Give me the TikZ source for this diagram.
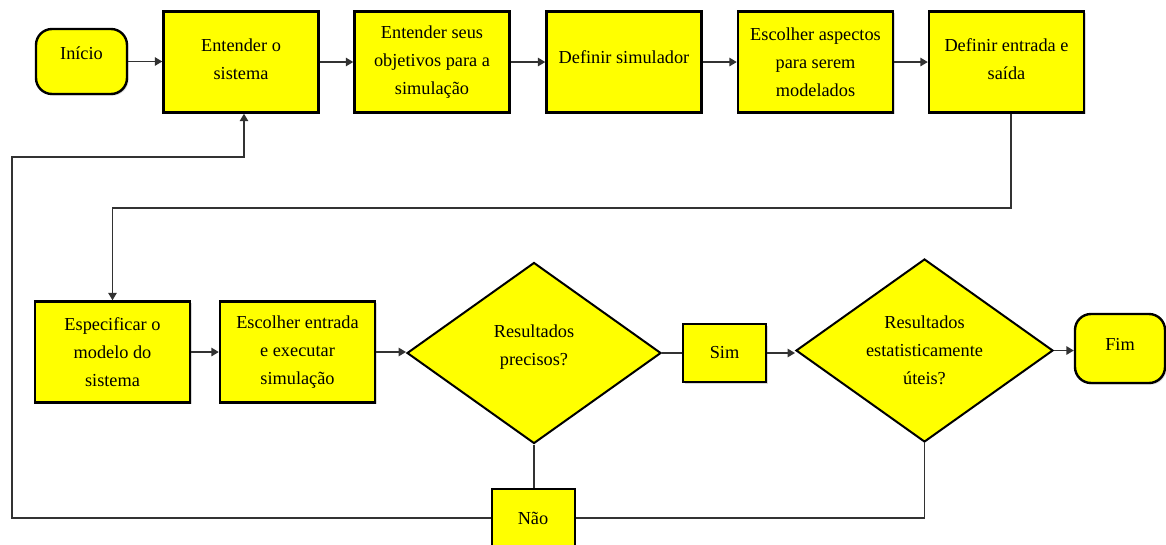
\documentclass[tikz,border=0pt]{standalone}
\usepackage{fontspec}
\setmainfont{Liberation Serif}
\usetikzlibrary{shapes.geometric,arrows.meta,shadows}
\definecolor{boxyellow}{RGB}{255,255,0}
\definecolor{linegray}{RGB}{50,50,50}
\begin{document}
\begin{tikzpicture}[x=1pt,y=-1pt,
  every node/.style={font=\fontsize{18.3}{28}\selectfont, align=center, text=black},
  shade/.style={drop shadow={shadow xshift=1.6pt, shadow yshift=-1.6pt, fill=black!30}},
  stepbox/.style={draw=black, line width=2.4pt, fill=boxyellow, shade,
    minimum width=155pt, minimum height=101pt, inner sep=0pt},
  smallbox/.style={draw=black, line width=2pt, fill=boxyellow, shade,
    minimum width=83pt, minimum height=58pt, inner sep=0pt},
  term/.style={draw=black, line width=2.4pt, fill=boxyellow, shade,
    rounded corners=16pt, inner sep=0pt},
  decision/.style={diamond, draw=black, line width=2pt, fill=boxyellow,
    inner sep=0pt},
  txt/.style={font=\fontsize{18.3}{28}\selectfont, align=center},
  link/.style={draw=linegray, line width=1.5pt},
  arrow/.style={link, -{Triangle[length=7.5pt,width=8.5pt]}}
]
\useasboundingbox (0,0) rectangle (1166,544);
\clip (0,0) rectangle (1166,544);

% top row
\node[term, minimum width=91pt, minimum height=65pt,
  label={[txt, yshift=8pt]center:Início}] (ini) at (81.5,61.5) {};
\node[stepbox] (b1) at (241,62) {Entender o\\sistema\\[-23pt]\mbox{}};
\node[stepbox] (b2) at (432,62) {Entender seus\\objetivos para a\\simulação};
\node[stepbox] (b3) at (624,62) {Definir simulador\\[-18pt]\mbox{}};
\node[stepbox] (b4) at (815.5,62) {Escolher aspectos\\para serem\\modelados};
\node[stepbox] (b5) at (1006.5,62) {Definir entrada e\\saída\\[-23pt]\mbox{}};

% bottom row
\node[stepbox] (s1) at (112.5,352) {Especificar o\\modelo do\\sistema};
\node[stepbox] (s2) at (297.5,352) {Escolher entrada\\e executar\\simulação};
\node[decision, minimum width=254pt, minimum height=181pt,
  label={[txt, yshift=5.5pt]center:Resultados\\precisos?}] (d1) at (534,353) {};
\node[smallbox] (sim) at (724.5,353) {Sim};
\node[decision, minimum width=257pt, minimum height=183pt,
  label={[txt]center:Resultados\\estatisticamente\\úteis?}] (d2) at (924.5,350.5) {};
\node[term, minimum width=90pt, minimum height=69pt,
  label={[txt, yshift=4pt]center:Fim}] (fim) at (1120,348.5) {};
\node[smallbox] (nao) at (533,518) {Não};

% turning points of the return lines
\coordinate (down) at (1011,208);
\coordinate (left) at (12,517);
\coordinate (back) at (244,157);

% forward flow
\draw[arrow] (ini.east) -- (ini.east -| b1.west);
\draw[arrow] (b1) -- (b2);
\draw[arrow] (b2) -- (b3);
\draw[arrow] (b3) -- (b4);
\draw[arrow] (b4) -- (b5);
\draw[arrow] (b5.south -| down) -- (down) -| (s1.north);
\draw[arrow] (s1) -- (s2);
\draw[arrow] (s2) -- (s2 -| d1.west);
\draw[link] (d1.east) -- (d1.east -| sim.west);
\draw[arrow] (sim.east) -- (sim.east -| d2.west);
\draw[arrow] (d2.east) -- (d2.east -| fim.west);

% failure paths back to the start
\draw[link] (d1.south) -- (d1.south |- nao.north);
\draw[arrow] (nao.west) -- (nao.west -| left) |- (back) -- (b1.south -| back);
\draw[link] (nao.east) -| (d2.south);
\end{tikzpicture}
\end{document}
